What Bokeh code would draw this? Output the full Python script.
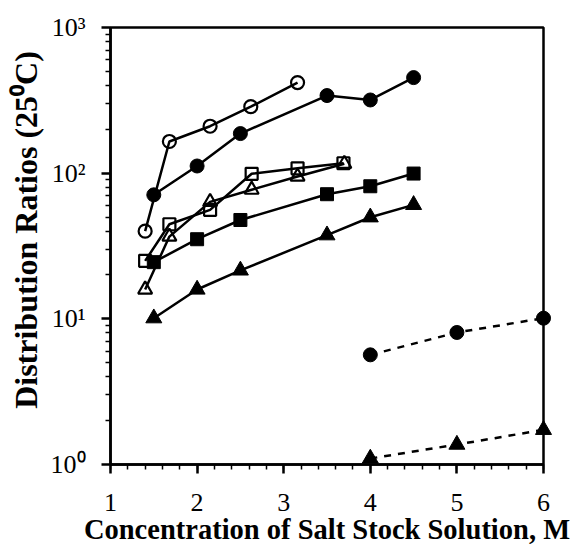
from bokeh.plotting import figure
from bokeh.models import FixedTicker
from bokeh.embed import file_html
from bokeh.resources import INLINE

# ---- data ----
x_open_circle = [1.4, 1.68, 2.15, 2.62, 3.16]
y_open_circle = [40, 165, 210, 286, 419]

x_fill_circle = [1.5, 2.0, 2.5, 3.5, 4.0, 4.5]
y_fill_circle = [71, 112, 187, 341, 318, 453]

x_open_square = [1.4, 1.68, 2.15, 2.63, 3.16, 3.69]
y_open_square = [25, 44.6, 56, 99, 108, 117]

x_open_tri = [1.4, 1.68, 2.15, 2.63, 3.16, 3.7]
y_open_tri = [15.9, 36.7, 63.5, 77, 94.8, 116]

x_fill_square = [1.5, 2.0, 2.5, 3.5, 4.0, 4.5]
y_fill_square = [24.5, 35.2, 47.7, 71.7, 81.3, 99.4]

x_fill_tri = [1.5, 2.0, 2.5, 3.5, 4.0, 4.5]
y_fill_tri = [10.1, 15.9, 21.5, 37.5, 49.8, 60.6]

x_dash_circle = [4.0, 5.0, 6.0]
y_dash_circle = [5.66, 8.06, 10.1]

x_dash_tri = [4.0, 5.0, 6.0]
y_dash_tri = [1.1, 1.37, 1.73]

x_ticks = [1, 2, 3, 4, 5, 6]
y_ticks = [1, 10, 100, 1000]
y_tick_labels = ["10\u2070", "10\u00b9", "10\u00b2", "10\u00b3"]

SERIF = "Liberation Serif"

p = figure(width=574, height=547, x_range=(1, 6), y_range=(1, 1000),
           y_axis_type="log", output_backend="svg", toolbar_location=None,
           min_border_left=110, min_border_right=31, min_border_top=27,
           min_border_bottom=83)
p.grid.visible = False
p.background_fill_color = "white"
p.border_fill_color = "white"
p.outline_line_color = "black"
p.outline_line_width = 2.5

x_minor = [1 + 0.2 * i for i in range(26)]
p.xaxis.ticker = FixedTicker(ticks=x_ticks, minor_ticks=x_minor)
y_minor = [m * d for d in (1, 10, 100) for m in range(2, 10)]
p.yaxis.ticker = FixedTicker(ticks=y_ticks, minor_ticks=y_minor)
p.yaxis.major_label_overrides = {t: l for t, l in zip(y_ticks, y_tick_labels)}

for ax in (p.xaxis, p.yaxis):
    ax.axis_line_width = 2.5
    ax.axis_line_color = "black"
    ax.major_tick_line_width = 2.5
    ax.minor_tick_line_width = 1.5
    ax.major_tick_in = 0
    ax.major_tick_out = 9
    ax.minor_tick_in = 0
    ax.minor_tick_out = 5
    ax.major_label_text_font = SERIF
    ax.major_label_text_font_size = "26px"
    ax.major_label_text_color = "black"
    ax.axis_label_text_font = SERIF
    ax.axis_label_text_font_style = "bold"
    ax.axis_label_text_color = "black"

p.xaxis.axis_label = "Concentration of Salt Stock Solution, M"
p.xaxis.axis_label_text_font_size = "28.5px"
p.xaxis.major_label_standoff = 20
p.xaxis.axis_label_standoff = 0

p.yaxis.axis_label = "\u00a0" * 4 + "Distribution Ratios (25\u2070C)"
p.yaxis.axis_label_text_font_size = "32px"
p.yaxis.major_label_standoff = 16
p.yaxis.axis_label_standoff = 4

LW = 2.5

def series(xs, ys, marker, filled, dash="solid", size=13):
    p.line(xs, ys, line_color="black", line_width=LW, line_dash=dash)
    r = p.scatter(xs, ys, marker=marker, size=size, line_color="black",
                  line_width=2.2 if not filled else 1,
                  fill_color="black" if filled else None)
    r.level = "overlay"

series(x_open_circle, y_open_circle, "circle", False, size=13)
series(x_fill_circle, y_fill_circle, "circle", True, size=14)
series(x_open_square, y_open_square, "square", False, size=12)
series(x_open_tri, y_open_tri, "triangle", False, size=14)
series(x_fill_square, y_fill_square, "square", True, size=13)
series(x_fill_tri, y_fill_tri, "triangle", True, size=16)
series(x_dash_circle, y_dash_circle, "circle", True, dash="7 7", size=14)
series(x_dash_tri, y_dash_tri, "triangle", True, dash="7 7", size=16)

open("out.html", "w").write(file_html(p, INLINE))
